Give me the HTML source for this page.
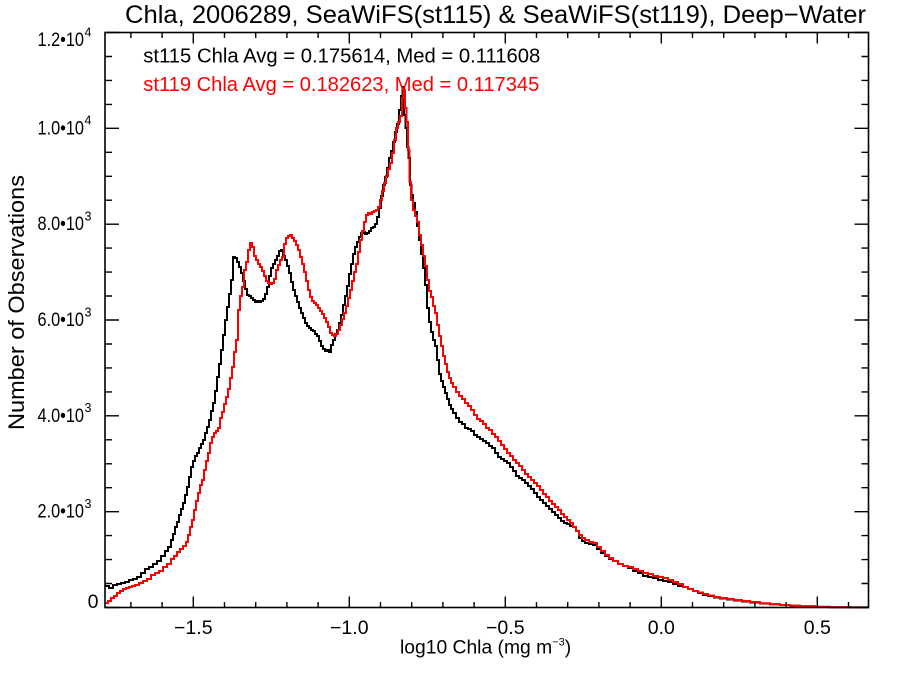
<!DOCTYPE html>
<html>
<head>
<meta charset="utf-8">
<style>
html,body{margin:0;padding:0;background:#fff;}
svg{display:block;}
text{font-family:"Liberation Sans","Helvetica",Arial,sans-serif;fill:#000;}
</style>
</head>
<body>
<svg width="900" height="675" viewBox="0 0 900 675" xmlns="http://www.w3.org/2000/svg">
<rect x="0" y="0" width="900" height="675" fill="#fff"/>

<!-- Title -->
<text x="125" y="23" font-size="25.4" textLength="741" lengthAdjust="spacingAndGlyphs">Chla, 2006289, SeaWiFS(st115) &amp; SeaWiFS(st119), Deep−Water</text>

<!-- Data: black (st115) -->
<path fill="none" stroke="#000" stroke-width="2" d="M105 586 H109 V588 H113 V585 H117 V584 H121 V583 H125 V582 H129 V580 H133 V579 H137 V577 H141 V573 H145 V569 H149 V567 H153 V564 H157 V561 H161 V556 H165 V551 H168 V547 H171 V540 H173 V534 H175 V527 H177 V522 H179 V515 H181 V509 H183 V503 H185 V495 H187 V487 H189 V477 H191 V467 H193 V461 H195 V456 H197 V453 H199 V448 H201 V444 H203 V440 H205 V433 H207 V427 H209 V420 H211 V411 H213 V403 H215 V391 H217 V377 H219 V364 H221 V350 H223 V335 H225 V320 H227 V307 H229 V294 H231 V280 H233 V257 H235 V258 H237 V262 H239 V267 H241 V273 H243 V281 H245 V289 H247 V295 H249 V296 H251 V298 H253 V300 H255 V302 H257 V301 H259 V302 H261 V301 H263 V299 H265 V294 H267 V287 H269 V276 H271 V268 H273 V264 H275 V260 H277 V256 H279 V251 H281 V250 H283 V256 H285 V260 H287 V266 H289 V273 H291 V282 H293 V290 H295 V296 H297 V302 H299 V308 H301 V313 H303 V318 H305 V323 H307 V326 H309 V328 H311 V330 H313 V331 H315 V334 H317 V336 H319 V341 H321 V346 H323 V349 H325 V351 H327 V350 H329 V352 H331 V345 H333 V340 H335 V334 H337 V330 H339 V323 H341 V315 H343 V305 H345 V296 H347 V286 H349 V274 H351 V264 H353 V254 H355 V247 H357 V242 H359 V237 H361 V233 H363 V232 H365 V234 H367 V233 H369 V231 H371 V228 H373 V227 H375 V224 H377 V217 H379 V208 H381 V196 H383 V185 H385 V177 H387 V168 H389 V158 H391 V151 H393 V142 H395 V132 H397 V124 H399 V110 H401 V96 H402.5 V87 H404 V115 H405.5 V128 H407 V147 H408.5 V158 H410 V185 H411.5 V195 H413 V203 H415 V212 H417 V226 H419 V240 H421 V254 H423 V268 H425 V285 H427 V308 H429 V322 H431 V332 H433 V340 H435 V346 H437 V360 H439 V374 H441 V381 H443 V387 H445 V393 H447 V399 H449 V405 H451 V409 H453 V413 H456 V418 H459 V422 H462 V424 H465 V428 H468 V429 H471 V431 H474 V435 H477 V437 H480 V439 H483 V441 H486 V443 H489 V446 H492 V448 H495 V453 H498 V457 H501 V459 H504 V461 H507 V463 H510 V467 H513 V471 H516 V476 H519 V478 H522 V480 H525 V483 H528 V486 H531 V489 H534 V493 H537 V497 H540 V500 H543 V503 H546 V506 H549 V509 H552 V512 H555 V515 H558 V518 H561 V521 H564 V523 H567 V524 H570 V526 H573 V527 H576 V531 H579 V538 H582 V541 H585 V543 H589 V544 H593 V545 H597 V549 H601 V553 H605 V556 H609 V559 H613 V561 H618 V564 H623 V566 H628 V568 H633 V571 H638 V573 H643 V576 H648 V577 H653 V578 H658 V580 H663 V581 H668 V582 H673 V584 H678 V586 H683 V587 H688 V589 H693 V591 H698 V593 H703 V595 H708 V596 H714 V597.5 H720 V598.5 H727 V599.5 H734 V600.5 H742 V601.5 H750 V602.5 H760 V603.5 H770 V604.3 H780 V605 H790 V605.7 H800 V606.3 H815 V606.9 H830 V607.2 H850 V607.4 H868.5"/>

<!-- Data: red (st119) -->
<path fill="none" stroke="#ff0000" stroke-width="2" d="M105 603 H108 V601 H111 V598 H114 V596 H117 V593 H120 V591 H123 V589 H126 V588 H129 V587 H132 V586 H135 V585 H139 V583 H143 V581 H147 V579 H151 V575 H155 V573 H159 V571 H163 V567 H167 V564 H171 V559 H174 V556 H177 V552 H180 V549 H183 V546 H186 V542 H188 V535 H190 V527 H192 V520 H194 V510 H196 V501 H198 V493 H200 V485 H202 V480 H204 V470 H206 V461 H208 V453 H210 V443 H212 V437 H214 V433 H216 V431 H218 V428 H220 V418 H222 V412 H224 V404 H226 V397 H228 V389 H230 V378 H232 V367 H234 V352 H236 V340 H238 V310 H240 V296 H242 V287 H244 V270 H246 V262 H248 V250 H250 V243 H252 V247 H254 V256 H256 V260 H258 V264 H260 V267 H262 V271 H264 V276 H266 V281 H268 V283 H270 V284 H272 V283 H274 V279 H276 V270 H278 V265 H280 V260 H282 V257 H284 V244 H286 V238 H288 V236 H290 V235 H292 V238 H294 V241 H296 V245 H298 V250 H300 V257 H302 V264 H304 V272 H306 V281 H308 V290 H310 V297 H312 V301 H314 V303 H316 V305 H318 V308 H320 V311 H322 V314 H324 V318 H326 V322 H328 V327 H330 V333 H332 V335 H334 V336 H336 V334 H338 V330 H340 V325 H342 V319 H344 V313 H346 V306 H348 V298 H350 V290 H352 V281 H354 V272 H356 V264 H358 V252 H360 V240 H362 V231 H364 V222 H366 V215 H368 V213 H370 V214 H372 V212 H374 V211 H376 V210 H378 V207 H380 V200 H382 V191 H384 V183 H386 V176 H388 V169 H390 V163 H392 V153 H394 V140 H396 V128 H398 V122 H400 V116 H402 V98 H403.5 V90 H405 V108 H406.5 V122 H408 V150 H409.5 V182 H411 V200 H413 V210 H415 V216 H417 V222 H419 V235 H421 V245 H423 V256 H425 V266 H427 V280 H429 V291 H431 V297 H433 V306 H435 V313 H437 V325 H439 V336 H441 V346 H443 V356 H445 V364 H447 V372 H449 V378 H451 V383 H453 V387 H456 V392 H459 V396 H462 V399 H465 V403 H468 V406 H471 V410 H474 V415 H477 V419 H480 V421 H483 V424 H486 V428 H489 V430 H492 V434 H495 V437 H498 V441 H501 V445 H504 V449 H507 V453 H510 V456 H513 V460 H516 V463 H519 V466 H522 V470 H525 V474 H528 V477 H531 V480 H534 V483 H537 V486 H540 V490 H543 V494 H546 V497 H549 V501 H552 V504 H555 V507 H558 V510 H561 V514 H564 V517 H567 V520 H570 V523 H573 V527 H576 V531 H579 V535 H582 V538 H585 V540 H589 V542 H593 V543 H597 V547 H601 V551 H605 V555 H609 V558 H613 V561 H618 V564 H623 V566 H628 V567 H633 V569 H638 V571 H643 V573 H648 V574 H653 V576 H658 V577 H663 V578 H668 V580 H673 V582 H678 V584 H683 V587 H688 V589 H693 V591 H698 V592.5 H703 V594 H708 V595.5 H714 V597 H720 V598 H727 V599 H734 V600 H742 V601 H750 V602 H760 V603.2 H770 V604.2 H780 V605 H790 V605.7 H800 V606.3 H815 V606.9 H830 V607.2 H850 V607.4 H868.5"/>

<!-- Axes box -->
<rect x="105" y="32.5" width="763.5" height="575" fill="none" stroke="#000" stroke-width="1.6"/>

<!-- Y ticks (left & right) -->
<g stroke="#000" stroke-width="1.4">
  <!-- majors -->
  <path d="M105 607.5 H119 M105 511.7 H119 M105 415.8 H119 M105 320 H119 M105 224.2 H119 M105 128.3 H119 M105 32.5 H119"/>
  <path d="M868.5 607.5 H854.5 M868.5 511.7 H854.5 M868.5 415.8 H854.5 M868.5 320 H854.5 M868.5 224.2 H854.5 M868.5 128.3 H854.5 M868.5 32.5 H854.5"/>
  <!-- minors -->
  <path d="M105 583.5 H112 M105 559.6 H112 M105 535.6 H112 M105 487.7 H112 M105 463.8 H112 M105 439.8 H112 M105 391.9 H112 M105 367.9 H112 M105 344 H112 M105 296 H112 M105 272.1 H112 M105 248.1 H112 M105 200.2 H112 M105 176.3 H112 M105 152.3 H112 M105 104.4 H112 M105 80.4 H112 M105 56.5 H112"/>
  <path d="M868.5 583.5 H861.5 M868.5 559.6 H861.5 M868.5 535.6 H861.5 M868.5 487.7 H861.5 M868.5 463.8 H861.5 M868.5 439.8 H861.5 M868.5 391.9 H861.5 M868.5 367.9 H861.5 M868.5 344 H861.5 M868.5 296 H861.5 M868.5 272.1 H861.5 M868.5 248.1 H861.5 M868.5 200.2 H861.5 M868.5 176.3 H861.5 M868.5 152.3 H861.5 M868.5 104.4 H861.5 M868.5 80.4 H861.5 M868.5 56.5 H861.5"/>
</g>

<!-- X ticks (bottom & top) -->
<g stroke="#000" stroke-width="1.4">
  <!-- majors -->
  <path d="M193.3 607.5 V596.5 M349.3 607.5 V596.5 M505.3 607.5 V596.5 M661.3 607.5 V596.5 M817.3 607.5 V596.5"/>
  <path d="M193.3 32.5 V43.5 M349.3 32.5 V43.5 M505.3 32.5 V43.5 M661.3 32.5 V43.5 M817.3 32.5 V43.5"/>
  <!-- minors -->
  <path d="M130.9 607.5 V602 M162.1 607.5 V602 M224.5 607.5 V602 M255.7 607.5 V602 M286.9 607.5 V602 M318.1 607.5 V602 M380.5 607.5 V602 M411.7 607.5 V602 M442.9 607.5 V602 M474.1 607.5 V602 M536.5 607.5 V602 M567.7 607.5 V602 M598.9 607.5 V602 M630.1 607.5 V602 M692.5 607.5 V602 M723.7 607.5 V602 M754.9 607.5 V602 M786.1 607.5 V602 M848.5 607.5 V602"/>
  <path d="M130.9 32.5 V38 M162.1 32.5 V38 M224.5 32.5 V38 M255.7 32.5 V38 M286.9 32.5 V38 M318.1 32.5 V38 M380.5 32.5 V38 M411.7 32.5 V38 M442.9 32.5 V38 M474.1 32.5 V38 M536.5 32.5 V38 M567.7 32.5 V38 M598.9 32.5 V38 M630.1 32.5 V38 M692.5 32.5 V38 M723.7 32.5 V38 M754.9 32.5 V38 M786.1 32.5 V38 M848.5 32.5 V38"/>
</g>

<!-- Y tick labels -->
<g font-size="19.5">
  <text x="98.5" y="608" text-anchor="end">0</text>
  <text x="37.5" y="517.7" textLength="46.5" lengthAdjust="spacingAndGlyphs">2.0•10</text>
  <text x="37.5" y="421.8" textLength="46.5" lengthAdjust="spacingAndGlyphs">4.0•10</text>
  <text x="37.5" y="326" textLength="46.5" lengthAdjust="spacingAndGlyphs">6.0•10</text>
  <text x="37.5" y="230.2" textLength="46.5" lengthAdjust="spacingAndGlyphs">8.0•10</text>
  <text x="37.5" y="134.3" textLength="46.5" lengthAdjust="spacingAndGlyphs">1.0•10</text>
  <text x="37.5" y="46" textLength="46.5" lengthAdjust="spacingAndGlyphs">1.2•10</text>
</g>
<g font-size="12.5">
  <text x="84.5" y="508">3</text>
  <text x="84.5" y="412">3</text>
  <text x="84.5" y="316.5">3</text>
  <text x="84.5" y="220.5">3</text>
  <text x="84.5" y="124.5">4</text>
  <text x="84.5" y="36.5">4</text>
</g>

<!-- X tick labels -->
<g font-size="19.5" text-anchor="middle">
  <text x="193.3" y="634">−1.5</text>
  <text x="349.3" y="634">−1.0</text>
  <text x="505.3" y="634">−0.5</text>
  <text x="661.3" y="634">0.0</text>
  <text x="817.3" y="634">0.5</text>
</g>

<!-- Axis titles -->
<text x="400" y="653.3" font-size="19.3">log10 Chla (mg m<tspan dy="-8" font-size="11">−3</tspan><tspan dy="8">)</tspan></text>
<text transform="translate(24,302.5) rotate(-90)" font-size="22" text-anchor="middle" textLength="255" lengthAdjust="spacingAndGlyphs">Number of Observations</text>

<!-- Legend -->
<text x="143.3" y="62.5" font-size="20" textLength="397" lengthAdjust="spacingAndGlyphs">st115 Chla Avg = 0.175614, Med = 0.111608</text>
<text x="143.3" y="91" font-size="20" fill="#ff0000" style="fill:#ff0000" textLength="396" lengthAdjust="spacingAndGlyphs">st119 Chla Avg = 0.182623, Med = 0.117345</text>
</svg>
</body>
</html>
